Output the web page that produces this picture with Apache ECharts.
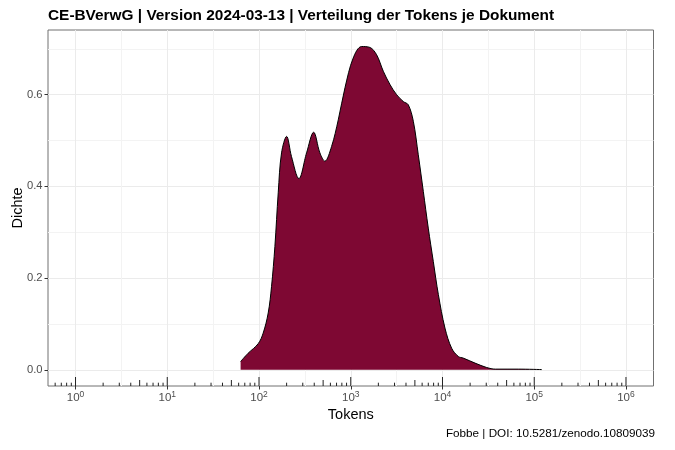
<!DOCTYPE html>
<html>
<head>
<meta charset="utf-8">
<script src="https://cdn.jsdelivr.net/npm/echarts@6/dist/echarts.min.js"></script>
<style>html,body{margin:0;padding:0;background:#fff}#c{width:675px;height:450px}</style>
</head>
<body>
<div id="c"></div>
<script>
// Token counts per document (x, log scale) and estimated density (y)
var tokens = [63, 76, 98, 111, 126, 137, 149, 162, 176, 200, 226, 272, 330, 394, 461, 522, 618, 731, 865, 1064, 1315, 1618, 1914, 2265, 2679, 3162, 3741, 4236, 4808, 5445, 6180, 6998, 7943, 9016, 10641, 12589, 14894, 16866, 22646, 30339, 37757, 67608, 120781];
var density = [0.018, 0.036, 0.057, 0.080, 0.124, 0.182, 0.269, 0.386, 0.473, 0.509, 0.465, 0.417, 0.473, 0.518, 0.473, 0.455, 0.487, 0.545, 0.615, 0.680, 0.705, 0.703, 0.687, 0.651, 0.622, 0.600, 0.585, 0.578, 0.542, 0.469, 0.389, 0.309, 0.236, 0.164, 0.091, 0.047, 0.029, 0.0255, 0.0146, 0.005, 0.0015, 0.0015, 0.0005];

var xTickExponents = [0, 1, 2, 3, 4, 5, 6];
var xMinorGrid = [0.5, 1.5, 2.5, 3.5, 4.5, 5.5];
var yTicks = [0, 0.2, 0.4, 0.6];
var yMinorGrid = [0.1, 0.3, 0.5, 0.7];
var logDecades = [-1, 0, 1, 2, 3, 4, 5, 6];
var logMultipliers = [1, 2, 3, 4, 5, 6, 7, 8, 9];

var titleText = 'CE-BVerwG | Version 2024-03-13 | Verteilung der Tokens je Dokument';
var captionText = 'Fobbe | DOI: 10.5281/zenodo.10809039';
var xTitle = 'Tokens';
var yTitle = 'Dichte';

var xMin = -0.3, xMax = 6.3;
var yMin = -0.0353, yMax = 0.741;

var curve = tokens.map(function (t, i) { return [Math.log10(t), density[i]]; });
var logTicks = [];
logDecades.forEach(function (d) {
  logMultipliers.forEach(function (m) {
    var v = Math.log10(m * Math.pow(10, d));
    if (v >= xMin && v <= xMax) logTicks.push([v, m]);
  });
});

var FONT = '"Liberation Sans", Arial, sans-serif';
var chart = echarts.init(document.getElementById('c'), null, {renderer: 'canvas'});
chart.setOption({
  animation: false,
  backgroundColor: '#ffffff',
  textStyle: {fontFamily: FONT},
  title: {
    text: titleText, left: 48, top: 8, padding: 0,
    textStyle: {fontFamily: FONT, fontSize: 15.4, fontWeight: 'bold', color: '#000'}
  },
  graphic: [{
    type: 'text', right: 20, top: 428,
    style: {text: captionText, font: '11.7px ' + FONT, fill: '#000'}
  }, {
    type: 'text', x: 350.8, y: 414.5,
    style: {text: xTitle, font: '14.5px ' + FONT, fill: '#000', align: 'center', verticalAlign: 'middle'}
  }, {
    type: 'text', x: 17.5, y: 208, rotation: Math.PI / 2,
    style: {text: yTitle, font: '14.5px ' + FONT, fill: '#000', align: 'center', verticalAlign: 'middle'}
  }],
  grid: {
    left: 48, right: 21.5, top: 30, bottom: 64,
    show: true, borderColor: '#707070', borderWidth: 1, backgroundColor: '#fff',
    containLabel: false, outerBoundsMode: 'none'
  },
  xAxis: [{
    type: 'value', min: xMin, max: xMax,
    axisLine: {show: false, onZero: false},
    axisTick: {show: true, customValues: xTickExponents, length: 3.5, lineStyle: {color: '#333', width: 1}},
    axisLabel: {
      customValues: xTickExponents, margin: 4, color: '#4d4d4d',
      formatter: function (v) { return '{b|10}{s|' + Math.round(v) + '}'; },
      rich: {
        b: {fontFamily: FONT, fontSize: 11.5, color: '#4d4d4d'},
        s: {fontFamily: FONT, fontSize: 8.5, color: '#4d4d4d', padding: [0, 0, 7, 0]}
      }
    },
    splitLine: {show: true, lineStyle: {color: '#ebebeb', width: 1}}
  }, {
    type: 'value', min: xMin, max: xMax, position: 'bottom',
    axisLine: {show: false, onZero: false}, axisLabel: {show: false},
    axisTick: {show: false, customValues: xMinorGrid},
    splitLine: {show: true, lineStyle: {color: '#f3f3f3', width: 1}}
  }],
  yAxis: [{
    type: 'value', min: yMin, max: yMax,
    axisLine: {show: false, onZero: false},
    axisTick: {show: true, customValues: yTicks, length: 3.5, lineStyle: {color: '#333', width: 1}},
    axisLabel: {
      customValues: yTicks, margin: 5.5, color: '#4d4d4d', fontSize: 11.2, fontFamily: FONT,
      formatter: function (v) { return v.toFixed(1); }
    },
    splitLine: {show: true, lineStyle: {color: '#ebebeb', width: 1}}
  }, {
    type: 'value', min: yMin, max: yMax, position: 'left',
    axisLine: {show: false, onZero: false}, axisLabel: {show: false},
    axisTick: {show: false, customValues: yMinorGrid},
    splitLine: {show: true, lineStyle: {color: '#f3f3f3', width: 1}}
  }],
  series: [{
    type: 'line', data: curve, xAxisIndex: 0, yAxisIndex: 0,
    smooth: 0.35, showSymbol: false, symbol: 'none',
    lineStyle: {color: '#000', width: 1},
    areaStyle: {color: '#7e0833', opacity: 1},
    z: 3
  }, {
    type: 'custom', data: logTicks, xAxisIndex: 0, yAxisIndex: 0, z: 4, clip: true,
    renderItem: function (params, api) {
      var x = api.coord([api.value(0), 0])[0];
      var bottom = params.coordSys.y + params.coordSys.height;
      var m = api.value(1);
      var len = m === 1 ? 9 : (m === 5 ? 6 : 3.3);
      return {
        type: 'line',
        shape: {x1: x, y1: bottom, x2: x, y2: bottom - len},
        style: {stroke: '#222', lineWidth: 1}
      };
    }
  }]
});
</script>
</body>
</html>
